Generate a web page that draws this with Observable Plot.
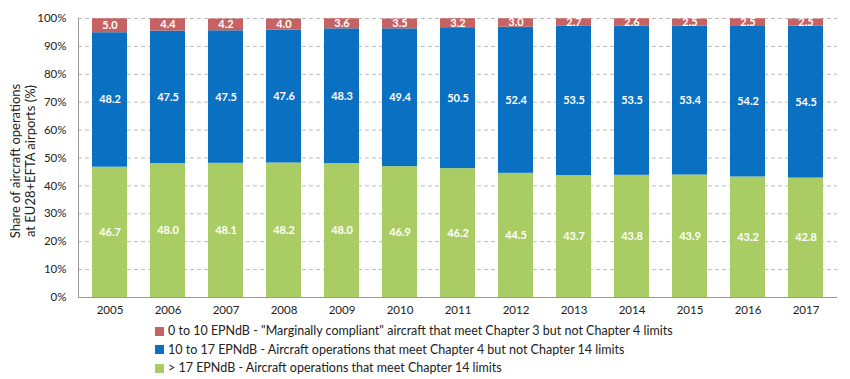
<!DOCTYPE html>
<html><head><meta charset="utf-8">
<script src="https://cdn.jsdelivr.net/npm/d3@7"></script>
<script src="https://cdn.jsdelivr.net/npm/@observablehq/plot@0.6"></script>
<style>
body{margin:0;background:#fff;font-family:Lato,sans-serif;}
#legend{margin-left:155px;margin-top:2px;font-size:12.5px;color:#222;line-height:18.5px;}
#legend .it{display:flex;align-items:center;}
#legend .sw{width:9px;height:9px;margin-right:4px;display:inline-block;}
</style></head><body>
<div id="chart"></div>
<div id="legend"></div>
<script>
const years = ["2005","2006","2007","2008","2009","2010","2011","2012","2013","2014","2015","2016","2017"];
const green = [46.7,48.0,48.1,48.2,48.0,46.9,46.2,44.5,43.7,43.8,43.9,43.2,42.8];
const blue  = [48.2,47.5,47.5,47.6,48.3,49.4,50.5,52.4,53.5,53.5,53.4,54.2,54.5];
const red   = [5.0,4.4,4.2,4.0,3.6,3.5,3.2,3.0,2.7,2.6,2.5,2.5,2.5];
const seriesNames = [
  "> 17 EPNdB - Aircraft operations that meet Chapter 14 limits",
  "10 to 17 EPNdB - Aircraft operations that meet Chapter 4 but not Chapter 14 limits",
  "0 to 10 EPNdB - \"Marginally compliant\" aircraft that meet Chapter 3 but not Chapter 4 limits"
];
const colors = ["#a9cd64","#0a70c2","#c76262"];
const seriesValues = [green, blue, red];

const data = [];
seriesValues.forEach((vals, s) => vals.forEach((v, i) => data.push({year: years[i], series: seriesNames[s], value: v})));

const stack = {x: "year", y: "value", z: "series", order: seriesNames};
const plot = Plot.plot({
  width: 850, height: 320,
  marginLeft: 78, marginRight: 13, marginTop: 18, marginBottom: 23,
  style: {fontFamily: "Lato, sans-serif", fontSize: "11.5px", color: "#222"},
  x: {domain: years, paddingInner: 0.39, paddingOuter: 0.16, label: null, tickSize: 0, tickPadding: 8},
  y: {domain: [0, 100], ticks: d3.range(0, 101, 10), tickFormat: d => d + "%", label: null, tickSize: 0, tickPadding: 12},
  color: {domain: seriesNames, range: colors},
  marks: [
    Plot.gridY(d3.range(10, 101, 10), {stroke: "#bbb", strokeOpacity: 1, strokeDasharray: "4,3"}),
    Plot.barY(data, Plot.stackY({...stack, fill: "series"})),
    Plot.text(data, Plot.stackY({...stack, y: "value", text: d => d.value.toFixed(1), fill: "white", fontWeight: "bold", fontSize: 11})),
    Plot.ruleY([0], {stroke: "#999"}),
    Plot.frame({anchor: "left", stroke: "#999"})
  ]
});
// y-axis title
const svg = d3.select(plot);
const g = svg.append("g").attr("transform", "translate(28,161) rotate(-90)")
  .attr("font-family", "Lato, sans-serif").attr("font-size", 13).attr("fill", "#222").attr("text-anchor", "middle");
g.append("text").attr("y", -8).text("Share of aircraft operations");
g.append("text").attr("y", 7).text("at EU28+EFTA airports (%)");
document.getElementById("chart").appendChild(plot);

const leg = document.getElementById("legend");
[2,1,0].forEach(i => {
  const d = document.createElement("div"); d.className = "it";
  const sw = document.createElement("span"); sw.className = "sw"; sw.style.background = colors[i];
  d.appendChild(sw); d.appendChild(document.createTextNode(seriesNames[i]));
  leg.appendChild(d);
});
</script>
</body></html>
